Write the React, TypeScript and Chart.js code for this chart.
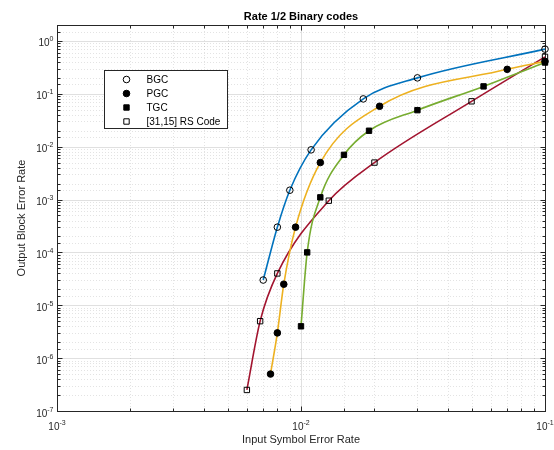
import React, { useEffect, useRef } from 'react';
import { Chart, registerables } from 'chart.js';

Chart.register(...registerables);

// ---- data ----
const seriesNames = ['BGC', 'PGC', 'TGC', '[31,15] RS Code'];
const lineColors = ['#0072BD', '#EDB120', '#77AC30', '#A2142F'];
const markerStyles = ['circle', 'circle', 'rect', 'rect'];
const markerFilled = [false, true, true, false];

const bgcX = [0.007, 0.008, 0.009, 0.011, 0.018, 0.03, 0.1];
const bgcY = [3e-5, 3e-4, 1.5e-3, 8.7e-3, 0.08, 0.2, 0.7];
const pgcX = [0.0075, 0.008, 0.0085, 0.0095, 0.012, 0.021, 0.07, 0.1];
const pgcY = [5e-7, 3e-6, 2.5e-5, 3e-4, 5e-3, 0.058, 0.29, 0.41];
const tgcX = [0.01, 0.0106, 0.012, 0.015, 0.019, 0.03, 0.056, 0.1];
const tgcY = [4e-6, 1e-4, 1.1e-3, 7e-3, 0.02, 0.049, 0.138, 0.39];
const rsX = [0.006, 0.0068, 0.008, 0.013, 0.02, 0.05, 0.1];
const rsY = [2.5e-7, 5e-6, 4e-5, 9.5e-4, 5e-3, 0.072, 0.5];

const seriesX = [bgcX, pgcX, tgcX, rsX];
const seriesY = [bgcY, pgcY, tgcY, rsY];

const xMin = 1e-3;
const xMax = 1e-1;
const yMin = 1e-7;
const yMax = 2;

const titleText = 'Rate 1/2 Binary codes';
const xTitle = 'Input Symbol Error Rate';
const yTitle = 'Output Block Error Rate';

const FONT = '"Liberation Sans", Arial, Helvetica, sans-serif';
const AXIS_COLOR = '#262626';

function isDecade(v: number) {
  const l = Math.log10(v);
  return Math.abs(l - Math.round(l)) < 1e-6;
}

function exponentOf(v: number) {
  return String(Math.round(Math.log10(v)));
}

const matlabFrame = {
  id: 'matlabFrame',
  beforeDatasetsDraw(chart: any) {
    const { ctx, chartArea: a, scales } = chart;
    const xs = scales.x;
    const ys = scales.y;
    ctx.save();
    const xt = xs.ticks.map((t: any) => t.value);
    const yt = ys.ticks.map((t: any) => t.value);
    const xp = (v: number) => Math.round(xs.getPixelForValue(v)) + 0.5;
    const yp = (v: number) => Math.round(ys.getPixelForValue(v)) + 0.5;
    const seg = (x1: number, y1: number, x2: number, y2: number) => {
      ctx.beginPath();
      ctx.moveTo(x1, y1);
      ctx.lineTo(x2, y2);
      ctx.stroke();
    };
    ctx.lineWidth = 1;
    // minor grid
    ctx.setLineDash([1, 2]);
    ctx.strokeStyle = 'rgba(0,0,0,0.11)';
    xt.forEach((v: number) => {
      if (isDecade(v) || v <= xMin || v >= xMax) return;
      const p = xp(v);
      seg(p, a.top, p, a.bottom);
    });
    yt.forEach((v: number) => {
      if (isDecade(v) || v <= yMin || v >= yMax) return;
      const p = yp(v);
      seg(a.left, p, a.right, p);
    });
    // major grid
    ctx.setLineDash([]);
    ctx.strokeStyle = 'rgba(0,0,0,0.12)';
    xt.forEach((v: number) => {
      if (!isDecade(v) || v <= xMin || v >= xMax) return;
      const p = xp(v);
      seg(p, a.top, p, a.bottom);
    });
    yt.forEach((v: number) => {
      if (!isDecade(v) || v <= yMin || v >= yMax) return;
      const p = yp(v);
      seg(a.left, p, a.right, p);
    });
    // box
    ctx.strokeStyle = AXIS_COLOR;
    const L = Math.round(a.left) + 0.5;
    const R = Math.round(a.right) + 0.5;
    const T = Math.round(a.top) + 0.5;
    const B = Math.round(a.bottom) + 0.5;
    ctx.strokeRect(L, T, R - L, B - T);
    // inward ticks on all sides
    xt.forEach((v: number) => {
      const len = isDecade(v) ? 5 : 3;
      const p = xp(v);
      seg(p, B, p, B - len);
      seg(p, T, p, T + len);
    });
    yt.forEach((v: number) => {
      const len = isDecade(v) ? 5 : 3;
      const p = yp(v);
      seg(L, p, L + len, p);
      seg(R, p, R - len, p);
    });
    // tick labels: "10" with a raised exponent
    ctx.fillStyle = AXIS_COLOR;
    ctx.textBaseline = 'alphabetic';
    const baseFont = '10px ' + FONT;
    const expFont = '7px ' + FONT;
    xt.forEach((v: number) => {
      if (!isDecade(v)) return;
      const e = exponentOf(v);
      ctx.font = baseFont;
      const wb = ctx.measureText('10').width;
      ctx.font = expFont;
      const we = ctx.measureText(e).width;
      const start = xs.getPixelForValue(v) - (wb + we) / 2;
      const baseY = B + 18.5;
      ctx.textAlign = 'left';
      ctx.font = baseFont;
      ctx.fillText('10', start, baseY);
      ctx.font = expFont;
      ctx.fillText(e, start + wb, baseY - 5);
    });
    yt.forEach((v: number) => {
      if (!isDecade(v)) return;
      const e = exponentOf(v);
      ctx.font = expFont;
      const we = ctx.measureText(e).width;
      const right = L - 4;
      const baseY = ys.getPixelForValue(v) + 5.5;
      ctx.textAlign = 'right';
      ctx.fillText(e, right, baseY - 5);
      ctx.font = baseFont;
      ctx.fillText('10', right - we, baseY);
    });
    ctx.restore();
  },
  afterDatasetsDraw(chart: any) {
    const { ctx, chartArea: a } = chart;
    ctx.save();
    const bx = Math.round(a.left + 47) + 0.5;
    const by = Math.round(a.top + 45) + 0.5;
    const bw = 123;
    const bh = 58;
    ctx.fillStyle = '#ffffff';
    ctx.fillRect(bx, by, bw, bh);
    ctx.strokeStyle = AXIS_COLOR;
    ctx.lineWidth = 1;
    ctx.strokeRect(bx, by, bw, bh);
    ctx.font = '10px ' + FONT;
    ctx.textBaseline = 'middle';
    ctx.textAlign = 'left';
    seriesNames.forEach((name, i) => {
      const cy = by + 9 + i * 14;
      const cx = bx + 22;
      ctx.strokeStyle = '#000';
      ctx.fillStyle = '#000';
      ctx.beginPath();
      if (markerStyles[i] === 'circle') {
        ctx.arc(cx, cy, 3.3, 0, Math.PI * 2);
      } else {
        ctx.rect(cx - 2.7, cy - 2.7, 5.4, 5.4);
      }
      if (markerFilled[i]) ctx.fill();
      ctx.stroke();
      ctx.fillStyle = '#000';
      ctx.fillText(name, bx + 42, cy + 0.5);
    });
    ctx.restore();
  },
};

export default function App() {
  const canvasRef = useRef<HTMLCanvasElement | null>(null);

  useEffect(() => {
    if (!canvasRef.current) return;
    const lineSets = seriesNames.map((name, i) => ({
      label: name,
      data: seriesX[i].map((x, j) => ({ x, y: seriesY[i][j] })),
      borderColor: lineColors[i],
      backgroundColor: lineColors[i],
      borderWidth: 1.6,
      pointRadius: 0,
      cubicInterpolationMode: 'monotone' as const,
      fill: false,
      clip: false as any,
      order: 2,
    }));
    const markerSets = seriesNames.map((name, i) => ({
      label: name + ' markers',
      data: seriesX[i].map((x, j) => ({ x, y: seriesY[i][j] })),
      showLine: false,
      pointStyle: markerStyles[i] as any,
      pointRadius: markerStyles[i] === 'circle' ? 3.3 : 3.8,
      pointBorderWidth: 1,
      pointBorderColor: '#000000',
      pointBackgroundColor: markerFilled[i] ? '#000000' : 'rgba(0,0,0,0)',
      clip: false as any,
      order: 1,
    }));

    const chart = new Chart(canvasRef.current, {
      type: 'line',
      data: { datasets: [...markerSets, ...lineSets] as any },
      options: {
        animation: false,
        responsive: false,
        devicePixelRatio: 1,
        events: [],
        layout: { padding: { top: 0, right: 9, bottom: 0, left: 0 } },
        plugins: {
          legend: { display: false },
          tooltip: { enabled: false },
          title: {
            display: true,
            text: titleText,
            fullSize: false,
            color: '#000000',
            font: { family: FONT, size: 11, weight: 'bold' },
            padding: { top: 10, bottom: 1.8 },
          },
        },
        scales: {
          x: {
            type: 'logarithmic',
            min: xMin,
            max: xMax,
            afterFit: (s: any) => { s.height = 39; },
            grid: { display: false, drawTicks: false },
            border: { display: false },
            ticks: { display: false, autoSkip: false },
            title: {
              display: true,
              text: xTitle,
              color: AXIS_COLOR,
              font: { family: FONT, size: 11 },
              padding: { top: 0, bottom: 3.4 },
            },
          },
          y: {
            type: 'logarithmic',
            min: yMin,
            max: yMax,
            afterFit: (s: any) => { s.width = 57; },
            grid: { display: false, drawTicks: false },
            border: { display: false },
            ticks: { display: false, autoSkip: false },
            title: {
              display: true,
              text: yTitle,
              color: AXIS_COLOR,
              font: { family: FONT, size: 11 },
              padding: { top: 15.4, bottom: 0 },
            },
          },
        },
      },
      plugins: [matlabFrame],
    });
    return () => chart.destroy();
  }, []);

  return (
    <div style={{ position: 'absolute', left: 0, top: 0, width: 554, height: 450, background: '#fff' }}>
      <canvas ref={canvasRef} width={554} height={450} />
    </div>
  );
}
